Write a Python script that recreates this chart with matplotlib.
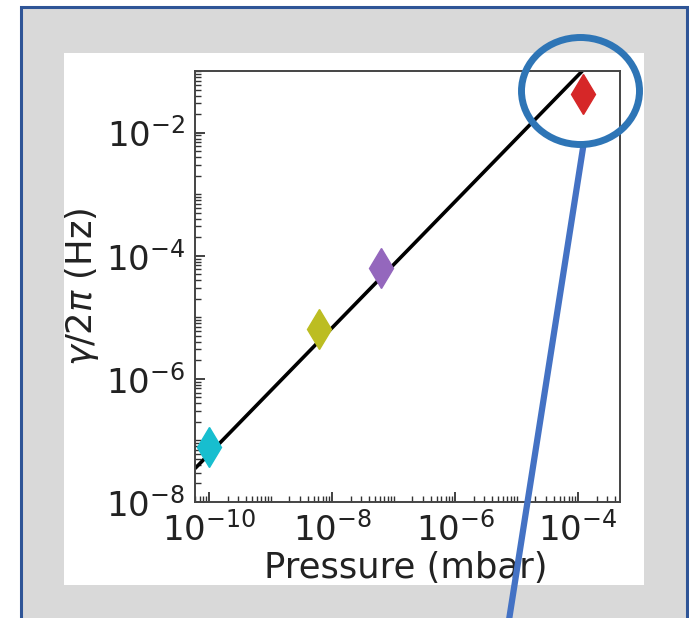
import numpy as np
import matplotlib
matplotlib.use("Agg")
import matplotlib.pyplot as plt
from matplotlib.patches import Rectangle, Ellipse
from matplotlib.lines import Line2D
from matplotlib.ticker import FixedLocator, LogLocator, LogFormatterSciNotation, NullFormatter

# ---- data ----
pressure = [1.0e-10, 6.2e-9, 6.3e-8, 1.2e-4]          # mbar
gamma = [7.8e-8, 6.5e-6, 6.3e-5, 4.2e-2]              # Hz
point_colors = ["#17becf", "#bcbd22", "#9467bd", "#d62728"]
fit_pressure = [5.9e-11, 1.17e-4]
fit_gamma = [3.5e-8, 1.0e-1]
x_major = [1e-10, 1e-8, 1e-6, 1e-4]
y_major = [1e-8, 1e-6, 1e-4, 1e-2]
x_label = "Pressure (mbar)"
y_label = r"$\gamma/2\pi$ (Hz)"

W, H = 689, 618
fig = plt.figure(figsize=(W / 100, H / 100), dpi=100)
fig.patch.set_facecolor("white")

def fx(x):
    return x / W

def fy(y):
    return 1 - y / H

# outer gray box with blue border
fig.patches.append(Rectangle((fx(21), fy(640)), fx(687) - fx(21), fy(7) - fy(640),
                             transform=fig.transFigure, facecolor="#d9d9d9",
                             edgecolor="#2f5597", linewidth=2.2, zorder=0))
# white panel
fig.patches.append(Rectangle((fx(64), fy(585)), fx(644) - fx(64), fy(53) - fy(585),
                             transform=fig.transFigure, facecolor="white",
                             edgecolor="none", zorder=0.5))

ax = fig.add_axes([fx(195), fy(502), fx(620) - fx(195), fy(71) - fy(502)])
ax.set_zorder(1)
ax.set_facecolor("white")
ax.set_xscale("log")
ax.set_yscale("log")
ax.set_xlim(5.9e-11, 4.8e-4)
ax.set_ylim(1e-8, 1e-1)

ax.plot(fit_pressure, fit_gamma, color="black", lw=2.6, zorder=2, solid_capstyle="butt")
for p, g, c in zip(pressure, gamma, point_colors):
    ax.plot([p], [g], marker="d", ms=20.5, color=c, mec=c, ls="none", zorder=3)

for axis, majors in ((ax.xaxis, x_major), (ax.yaxis, y_major)):
    axis.set_major_locator(FixedLocator(majors))
    axis.set_major_formatter(LogFormatterSciNotation())
    axis.set_minor_locator(LogLocator(base=10, subs=np.arange(1, 10), numticks=100))
    axis.set_minor_formatter(NullFormatter())

ax.tick_params(which="both", direction="in", colors="#333333", labelcolor="#222222")
ax.tick_params(which="major", length=7, width=1.3, labelsize=24.5)
ax.tick_params(which="minor", length=4, width=1.0)
ax.tick_params(axis="y", which="major", pad=7)
ax.tick_params(axis="x", which="major", pad=7)
for s in ax.spines.values():
    s.set_color("#444444")
    s.set_linewidth(1.4)

ax.set_xlabel(x_label, fontsize=25.5, color="#222222")
ax.set_ylabel(y_label, fontsize=25.5, color="#222222")
ax.xaxis.set_label_coords(0.496, -0.113)
ax.yaxis.set_label_coords(-0.221, 0.5)

# highlight circle and pointer line
fig.patches.append(Ellipse((fx(580.5), fy(91)), fx(118), fx(0) + (fy(0) - fy(107)),
                           transform=fig.transFigure, facecolor="none",
                           edgecolor="#2e75b6", linewidth=5, zorder=10))
fig.lines.append(Line2D([fx(583), fx(509)], [fy(148), fy(620)], transform=fig.transFigure,
                        color="#4472c4", linewidth=4.5, zorder=10))

fig.savefig("out.png", dpi=100)
